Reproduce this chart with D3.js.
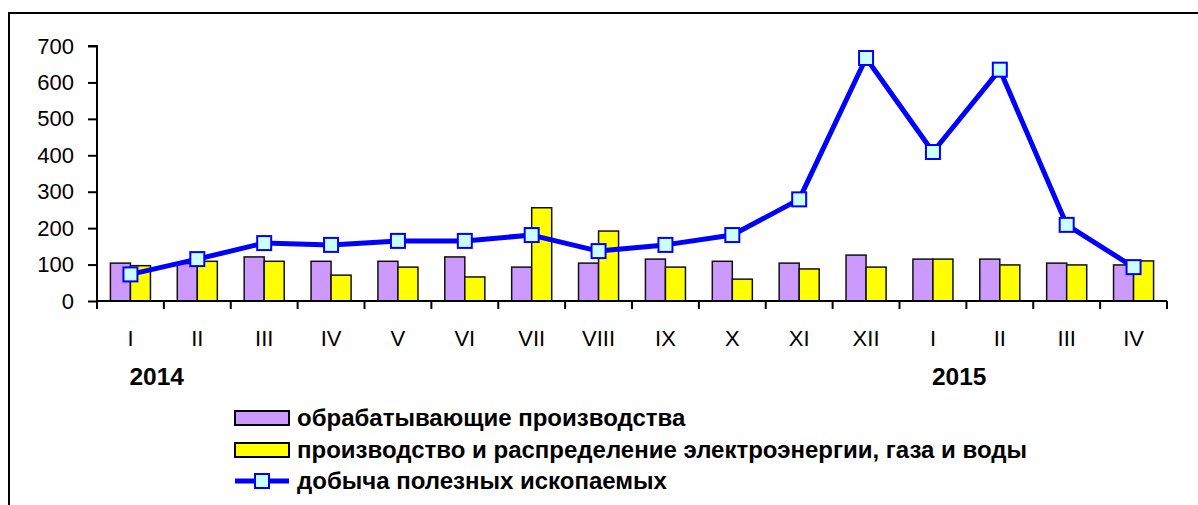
<!DOCTYPE html>
<html>
<head>
<meta charset="utf-8">
<script src="https://cdn.jsdelivr.net/npm/d3@7"></script>
<style>
  body { margin: 0; background: #fff; }
  svg { display: block; font-family: "Liberation Sans", Arial, sans-serif; }
</style>
</head>
<body>
<svg id="chart" width="1198" height="505"></svg>
<script>
// month labels, Jan 2014 .. Apr 2015
const months = ["I","II","III","IV","V","VI","VII","VIII","IX","X","XI","XII","I","II","III","IV"];
const years = [{label: "2014", at: 0}, {label: "2015", at: 12}];

// обрабатывающие производства
const manufacturing = [104, 103, 121, 109, 109, 121, 93, 104, 115, 109, 104, 126, 115, 115, 104, 99];
// производство и распределение электроэнергии, газа и воды
const utilities = [97, 109, 109, 71, 93, 66, 256, 192, 93, 60, 88, 93, 115, 99, 99, 110];
// добыча полезных ископаемых
const mining = [73, 115, 159, 154, 165, 165, 181, 137, 154, 181, 279, 667, 409, 635, 209, 93];

const seriesNames = [
  "обрабатывающие производства",
  "производство и распределение электроэнергии, газа и воды",
  "добыча полезных ископаемых"
];
const yTicks = [0, 100, 200, 300, 400, 500, 600, 700];

const barColors = ["#CC99FF", "#FFFF00"];
const lineColor = "#0000FF";
const markerFill = "#CCFFFF";

const svg = d3.select("#chart");
const plot = {left: 97, right: 1167, top: 46, bottom: 301};

// frame: only top and left edges visible
svg.append("path")
    .attr("d", "M9,505 V13 H1198")
    .attr("fill", "none")
    .attr("stroke", "#000")
    .attr("stroke-width", 2);

const x0 = d3.scaleBand()
    .domain(d3.range(months.length))
    .range([plot.left, plot.right]);

const x1 = d3.scaleBand()
    .domain([0, 1])
    .range([0, x0.bandwidth()])
    .paddingOuter(0.67);

const y = d3.scaleLinear()
    .domain([0, 700])
    .range([plot.bottom, plot.top]);

// bars
const barData = months.map((m, i) => [manufacturing[i], utilities[i]]);
const groups = svg.append("g").selectAll("g")
    .data(barData)
    .enter().append("g")
    .attr("transform", (d, i) => `translate(${x0(i)},0)`);

groups.selectAll("rect")
    .data(d => d)
    .enter().append("rect")
    .attr("x", (d, j) => x1(j))
    .attr("width", x1.bandwidth())
    .attr("y", d => y(d))
    .attr("height", d => y(0) - y(d))
    .attr("fill", (d, j) => barColors[j])
    .attr("stroke", "#111")
    .attr("stroke-width", 1.5);

// y axis
const yAxis = svg.append("g")
    .attr("transform", `translate(${plot.left},0)`)
    .call(d3.axisLeft(y).tickValues(yTicks).tickSize(9).tickPadding(14).tickFormat(d3.format("d")));
yAxis.select(".domain").attr("stroke-width", 2).attr("d", `M-9,${plot.top}H0V${plot.bottom}`);
yAxis.selectAll(".tick line").attr("stroke-width", 2);
yAxis.selectAll("text").attr("font-size", 22).attr("fill", "#000").attr("font-family", null);

// x axis: ticks at band boundaries
const xAxis = svg.append("g");
xAxis.append("line")
    .attr("x1", plot.left).attr("x2", plot.right)
    .attr("y1", plot.bottom).attr("y2", plot.bottom)
    .attr("stroke", "#000").attr("stroke-width", 2);
xAxis.selectAll(".xtick")
    .data(d3.range(months.length + 1))
    .enter().append("line")
    .attr("class", "xtick")
    .attr("x1", i => i < months.length ? x0(i) : plot.right)
    .attr("x2", i => i < months.length ? x0(i) : plot.right)
    .attr("y1", plot.bottom).attr("y2", plot.bottom + 8)
    .attr("stroke", "#000").attr("stroke-width", 2);
xAxis.selectAll(".xlabel")
    .data(months)
    .enter().append("text")
    .attr("class", "xlabel")
    .attr("x", (d, i) => x0(i) + x0.bandwidth() / 2)
    .attr("y", 346)
    .attr("text-anchor", "middle")
    .attr("font-size", 22)
    .text(d => d);

svg.selectAll(".year")
    .data(years)
    .enter().append("text")
    .attr("class", "year")
    .attr("x", d => x0(d.at) + x0.bandwidth() / 2 - 1)
    .attr("y", 385)
    .attr("font-size", 24.5)
    .attr("font-weight", "bold")
    .text(d => d.label);

// line series
const cx = i => x0(i) + x0.bandwidth() / 2;
svg.append("path")
    .datum(mining)
    .attr("fill", "none")
    .attr("stroke", lineColor)
    .attr("stroke-width", 5)
    .attr("stroke-linejoin", "round")
    .attr("d", d3.line().x((d, i) => cx(i)).y(d => y(d)));

svg.append("g").selectAll("rect")
    .data(mining)
    .enter().append("rect")
    .attr("x", (d, i) => cx(i) - 7)
    .attr("y", d => y(d) - 7)
    .attr("width", 14)
    .attr("height", 14)
    .attr("fill", markerFill)
    .attr("stroke", lineColor)
    .attr("stroke-width", 2);

// legend
const legend = svg.append("g").attr("transform", "translate(235,0)");
const rowY = [418, 450, 481];

legend.selectAll(".sw")
    .data(barColors)
    .enter().append("rect")
    .attr("x", 0)
    .attr("y", (d, i) => rowY[i] - 7)
    .attr("width", 54)
    .attr("height", 14)
    .attr("fill", d => d)
    .attr("stroke", "#000")
    .attr("stroke-width", 2);

legend.append("line")
    .attr("x1", 0).attr("x2", 54)
    .attr("y1", rowY[2]).attr("y2", rowY[2])
    .attr("stroke", lineColor).attr("stroke-width", 5);
legend.append("rect")
    .attr("x", 20).attr("y", rowY[2] - 7)
    .attr("width", 14).attr("height", 14)
    .attr("fill", markerFill)
    .attr("stroke", lineColor)
    .attr("stroke-width", 2);

legend.selectAll(".lt")
    .data(seriesNames)
    .enter().append("text")
    .attr("class", "lt")
    .attr("x", 62)
    .attr("y", (d, i) => rowY[i] + 8)
    .attr("font-size", 24)
    .attr("font-weight", "bold")
    .text(d => d);
</script>
</body>
</html>
